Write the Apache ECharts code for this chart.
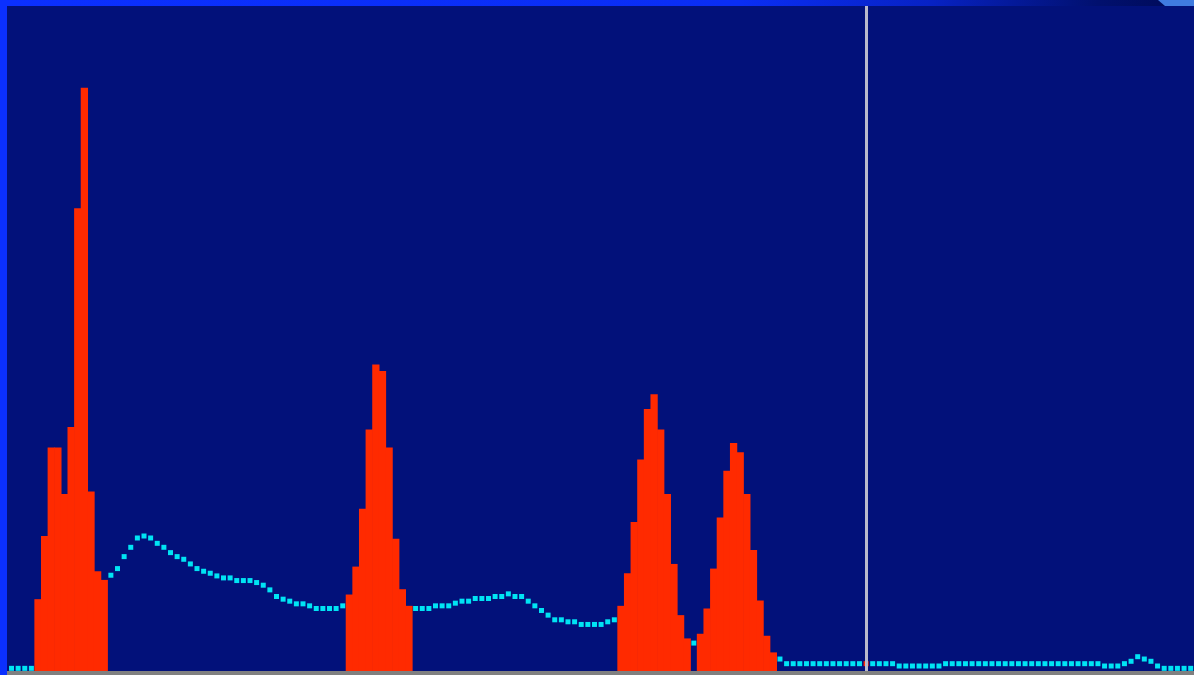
<!DOCTYPE html>
<html>
<head>
<meta charset="utf-8">
<script src="https://cdn.jsdelivr.net/npm/echarts@6/dist/echarts.min.js"></script>
<style>
  html, body { margin: 0; padding: 0; background: #02117a; }
  #chart { width: 1194px; height: 675px; }
</style>
</head>
<body>
<div id="chart"></div>
<script>
// Histogram counts per channel (0..178) (0 = empty bin)
const histogramCounts = [
  0, 0, 0, 0, 10.8, 20.3, 33.6, 33.6, 26.6, 36.7,
  69.6, 87.7, 27.0, 15.0, 13.7, 0, 0, 0, 0, 0,
  0, 0, 0, 0, 0, 0, 0, 0, 0, 0,
  0, 0, 0, 0, 0, 0, 0, 0, 0, 0,
  0, 0, 0, 0, 0, 0, 0, 0, 0, 0,
  0, 11.5, 15.7, 24.4, 36.3, 46.1, 45.1, 33.6, 19.9, 12.3,
  9.8, 0, 0, 0, 0, 0, 0, 0, 0, 0,
  0, 0, 0, 0, 0, 0, 0, 0, 0, 0,
  0, 0, 0, 0, 0, 0, 0, 0, 0, 0,
  0, 0, 9.8, 14.7, 22.4, 31.8, 39.4, 41.6, 36.3, 26.6,
  16.1, 8.4, 4.9, 0, 5.6, 9.4, 15.4, 23.1, 30.1, 34.3,
  32.9, 26.6, 18.2, 10.6, 5.3, 2.8, 0, 0, 0, 0,
  0, 0, 0, 0, 0, 0, 0, 0, 0, 0,
  0, 0, 0, 0, 0, 0, 0, 0, 0, 0,
  0, 0, 0, 0, 0, 0, 0, 0, 0, 0,
  0, 0, 0, 0, 0, 0, 0, 0, 0, 0,
  0, 0, 0, 0, 0, 0, 0, 0, 0, 0,
  0, 0, 0, 0, 0, 0, 0, 0, 0
];

// Dotted trace per channel (null = hidden behind the bars)
const traceValues = [
  0.4, 0.4, 0.4, 0.4, null, null, null, null, null, null,
  null, null, null, null, null, 14.4, 15.4, 17.2, 18.6, 20.0,
  20.3, 20.0, 19.2, 18.6, 17.8, 17.2, 16.8, 16.1, 15.4, 15.0,
  14.7, 14.3, 14.0, 14.0, 13.6, 13.6, 13.6, 13.3, 12.9, 12.2,
  11.2, 10.8, 10.5, 10.1, 10.1, 9.8, 9.4, 9.4, 9.4, 9.4,
  9.8, null, null, null, null, null, null, null, null, null,
  null, 9.4, 9.4, 9.4, 9.8, 9.8, 9.8, 10.2, 10.5, 10.5,
  10.9, 10.9, 10.9, 11.2, 11.2, 11.6, 11.2, 11.2, 10.5, 9.8,
  9.1, 8.4, 7.7, 7.7, 7.4, 7.4, 7.0, 7.0, 7.0, 7.0,
  7.4, 7.7, null, null, null, null, null, null, null, null,
  null, null, null, 4.2, null, null, null, null, null, null,
  null, null, null, null, null, null, 1.8, 1.1, 1.1, 1.1,
  1.1, 1.1, 1.1, 1.1, 1.1, 1.1, 1.1, 1.1, 1.1, 1.1,
  1.1, 1.1, 1.1, 1.1, 0.75, 0.75, 0.75, 0.75, 0.75, 0.75,
  0.75, 1.1, 1.1, 1.1, 1.1, 1.1, 1.1, 1.1, 1.1, 1.1,
  1.1, 1.1, 1.1, 1.1, 1.1, 1.1, 1.1, 1.1, 1.1, 1.1,
  1.1, 1.1, 1.1, 1.1, 1.1, 0.75, 0.75, 0.75, 1.1, 1.46,
  2.15, 1.8, 1.46, 0.75, 0.4, 0.4, 0.4, 0.4, 0.4
];

// Cursor channel (vertical marker line)
const cursorChannel = 129;

const channels = histogramCounts.map((_, i) => String(i));

const traceData = traceValues.map((v, i) =>
  i === cursorChannel ? { value: v, itemStyle: { color: '#ff2a00' } } : v
);

const chart = echarts.init(document.getElementById('chart'), null, { renderer: 'canvas' });

chart.setOption({
  animation: false,
  backgroundColor: '#02117a',
  grid: { left: 8.2, right: 0, top: 6, bottom: 4, containLabel: false },
  xAxis: {
    type: 'category',
    data: channels,
    boundaryGap: true,
    axisLine: { show: false },
    axisTick: { show: false },
    axisLabel: { show: false },
    splitLine: { show: false }
  },
  yAxis: {
    type: 'value',
    min: 0,
    max: 100,
    axisLine: { show: false },
    axisTick: { show: false },
    axisLabel: { show: false },
    splitLine: { show: false }
  },
  series: [
    {
      type: 'line',
      data: traceData,
      z: 2,
      showSymbol: true,
      showAllSymbol: true,
      symbol: 'rect',
      symbolSize: 5,
      lineStyle: { width: 0, opacity: 0 },
      itemStyle: { color: '#00e4f4', borderWidth: 0 },
      connectNulls: false,
      silent: true
    },
    {
      type: 'bar',
      data: histogramCounts,
      z: 3,
      barWidth: '110%',
      barCategoryGap: '0%',
      itemStyle: { color: '#ff2a00', borderWidth: 0 },
      silent: true,
      markLine: {
        silent: true,
        symbol: ['none', 'none'],
        label: { show: false },
        lineStyle: { color: '#b9b9cc', width: 3, type: 'solid' },
        data: [{ xAxis: cursorChannel }]
      }
    }
  ],
  graphic: [
    {
      type: 'rect',
      shape: { x: 0, y: 0, width: 1194, height: 6 },
      style: {
        fill: new echarts.graphic.LinearGradient(0, 0, 1, 0, [
          { offset: 0, color: '#0b30ff' },
          { offset: 0.62, color: '#0a2ef4' },
          { offset: 0.78, color: '#0722c4' },
          { offset: 0.92, color: '#01106e' },
          { offset: 0.97, color: '#000c5e' }
        ])
      },
      z: 100
    },
    {
      type: 'polygon',
      shape: { points: [[1158, 0], [1194, 0], [1194, 6], [1165, 6]] },
      style: { fill: '#3f7be0' },
      z: 101
    },
    {
      type: 'rect',
      shape: { x: 0, y: 0, width: 7, height: 675 },
      style: { fill: '#0b30ff' },
      z: 100
    },
    {
      type: 'rect',
      shape: { x: 7, y: 671, width: 1187, height: 4 },
      style: { fill: '#808080' },
      z: 100
    }
  ]
});
</script>
</body>
</html>
